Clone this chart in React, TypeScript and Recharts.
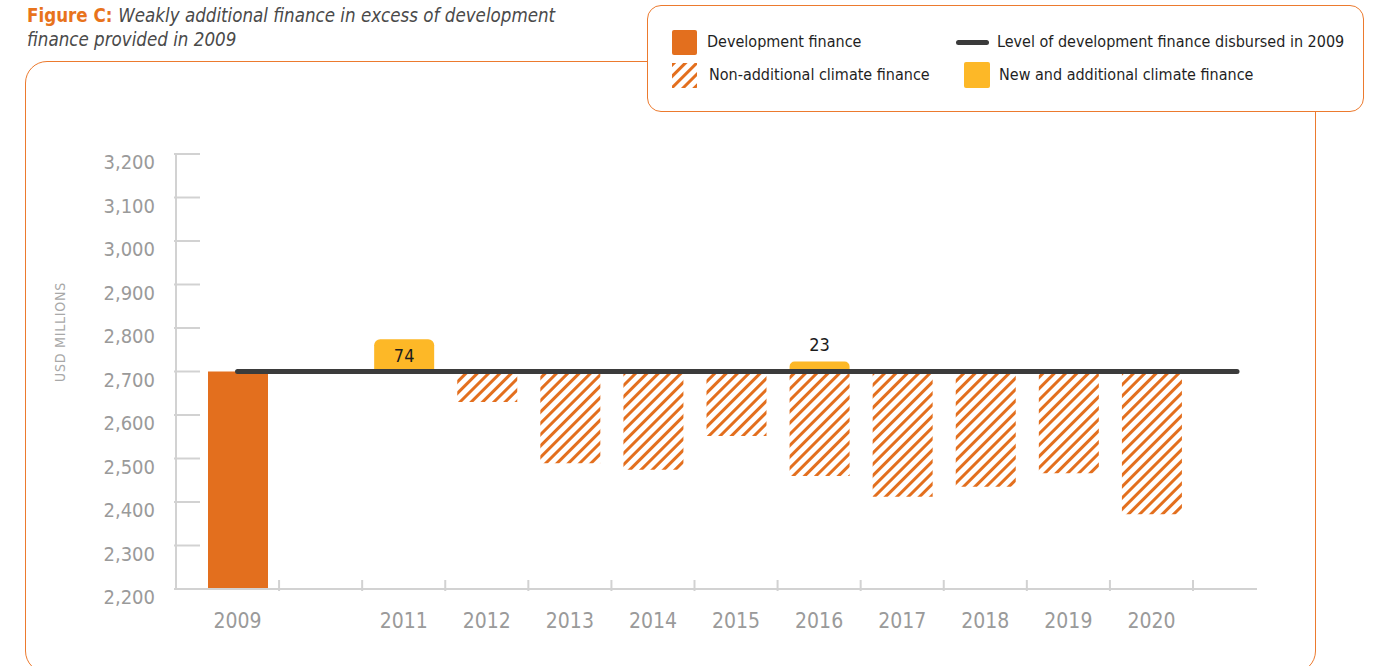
import React from 'react';
import { BarChart, Bar, XAxis, YAxis, ReferenceLine, LabelList } from 'recharts';

// ---- data ----
const years = ['2009', '2010', '2011', '2012', '2013', '2014', '2015', '2016', '2017', '2018', '2019', '2020'];
const yearLabels = ['2009', '', '2011', '2012', '2013', '2014', '2015', '2016', '2017', '2018', '2019', '2020'];
const developmentFinance: (number | null)[] = [2700, null, null, null, null, null, null, null, null, null, null, null];
const level2009 = 2700;
// amount of climate finance that is non-additional (below the 2009 level)
const nonAdditional: (number | null)[] = [null, null, null, 70, 211, 226, 148, 240, 288, 265, 234, 328];
// new and additional climate finance (above the 2009 level)
const newAdditional: (number | null)[] = [null, null, 74, null, null, null, null, 23, null, null, null, null];
const yTicks = [2200, 2300, 2400, 2500, 2600, 2700, 2800, 2900, 3000, 3100, 3200];
const Y_MIN = 2200;
const Y_MAX = 3200;

const data = years.map((year, i) => ({
  year,
  dev: developmentFinance[i] != null ? [Y_MIN, developmentFinance[i] as number] : null,
  nonAdd: nonAdditional[i] != null ? [level2009 - (nonAdditional[i] as number), level2009] : null,
  newAdd: newAdditional[i] != null ? [level2009, level2009 + (newAdditional[i] as number)] : null,
  newVal: newAdditional[i],
}));

// ---- layout / style ----
const W = 1373;
const H = 666;
const M = { top: 154, right: 116, bottom: 37, left: 76 };
const Y_AXIS_W = 100;
const PAD = { left: 20, right: 64 };
const PLOT_W = W - M.left - M.right - Y_AXIS_W;
const HALF_BAND = (PLOT_W - PAD.left - PAD.right) / years.length / 2;

const ORANGE = '#E36F1E';
const YELLOW = '#FDB827';
const FRAME = '#EC7A2E';
const GREY = '#9a9a9a';
const AXIS = '#d2d2d2';
const FONT = "'Liberation Sans Narrow', 'DejaVu Sans Condensed', 'Roboto Condensed', Roboto, sans-serif";

const YTick = (props: any) => {
  const { x, y, payload } = props;
  return (
    <g>
      <line x1={x} x2={x + 26} y1={y} y2={y} stroke={AXIS} strokeWidth={2} />
      <text x={x - 19} y={y + 8} textAnchor="end" dominantBaseline="central" fill={GREY} fontSize={20} fontFamily={FONT}>
        {Number(payload.value).toLocaleString('en-US')}
      </text>
    </g>
  );
};

const XTick = (props: any) => {
  const { x, y, payload } = props;
  const idx = years.indexOf(payload.value);
  return (
    <g>
      <line x1={x + HALF_BAND} x2={x + HALF_BAND} y1={y - 11} y2={y} stroke={AXIS} strokeWidth={2} />
      <text x={x} y={y + 30} textAnchor="middle" dominantBaseline="central" fill={GREY} fontSize={21} fontFamily={FONT}>
        {yearLabels[idx]}
      </text>
    </g>
  );
};

const NewLabel = (props: any) => {
  const { x, y, width, height, value } = props;
  if (value == null) return null;
  const inside = height > 20;
  return (
    <text
      x={x + width / 2}
      y={inside ? y + 16 : y - 17}
      textAnchor="middle"
      dominantBaseline="central"
      fill="#1c1c1c"
      fontSize={18}
      fontFamily={FONT}
    >
      {value}
    </text>
  );
};

const LevelLine = (props: any) => {
  const { x1, x2, y1 } = props;
  return (
    <line
      x1={x1 + PAD.left + HALF_BAND}
      x2={x2 - 20}
      y1={y1}
      y2={y1}
      stroke="#3b3b3b"
      strokeWidth={5}
      strokeLinecap="round"
    />
  );
};

const YLabel = (props: any) => {
  const { viewBox } = props;
  const cx = viewBox.x - 16;
  const cy = viewBox.y + 178;
  return (
    <text
      x={cx}
      y={cy}
      transform={`rotate(-90 ${cx} ${cy})`}
      textAnchor="middle"
      dominantBaseline="central"
      fill="#a8a8a8"
      fontSize={14}
      letterSpacing={0.8}
      fontFamily={FONT}
    >
      USD MILLIONS
    </text>
  );
};

const legendText: React.CSSProperties = {
  position: 'absolute',
  fontFamily: FONT,
  fontSize: 16,
  color: '#1f1f1f',
  lineHeight: '20px',
  whiteSpace: 'nowrap',
};

export default function App() {
  return (
    <div style={{ position: 'absolute', left: 0, top: 0, width: W, height: H, background: '#fff', overflow: 'hidden' }}>
      <svg width={0} height={0} style={{ position: 'absolute' }}>
        <defs>
          <pattern id="hatch" patternUnits="userSpaceOnUse" width={8} height={8} patternTransform="rotate(45)">
            <rect x={0} y={0} width={3} height={8} fill={ORANGE} />
          </pattern>
        </defs>
      </svg>

      {/* title */}
      <div style={{ position: 'absolute', left: 27, top: 4, fontFamily: FONT, fontSize: 18.6, lineHeight: '24px', color: '#4a4a4a', whiteSpace: 'nowrap' }}>
        <span style={{ color: '#E8731C', fontWeight: 'bold' }}>Figure C: </span>
        <span style={{ fontStyle: 'italic' }}>Weakly additional finance in excess of development</span>
        <br />
        <span style={{ fontStyle: 'italic' }}>finance provided in 2009</span>
      </div>

      {/* frame */}
      <div
        style={{
          position: 'absolute',
          left: 25,
          top: 61,
          width: 1291,
          height: 612,
          border: `1.5px solid ${FRAME}`,
          borderRadius: 22,
          boxSizing: 'border-box',
        }}
      />

      <div style={{ position: 'absolute', left: 0, top: 0 }}>
        <BarChart width={W} height={H} data={data} margin={M}>
          <XAxis
            xAxisId="main"
            dataKey="year"
            type="category"
            padding={PAD}
            height={40}
            interval={0}
            axisLine={{ stroke: AXIS, strokeWidth: 2 }}
            tickLine={false}
            tickSize={0}
            tick={<XTick />}
          />
          <XAxis xAxisId="nonAdd" dataKey="year" type="category" padding={PAD} hide />
          <XAxis xAxisId="newAdd" dataKey="year" type="category" padding={PAD} hide />
          <YAxis
            type="number"
            domain={[Y_MIN, Y_MAX]}
            ticks={yTicks}
            width={Y_AXIS_W}
            interval={0}
            axisLine={{ stroke: AXIS, strokeWidth: 2 }}
            tickLine={false}
            tickSize={0}
            tick={<YTick />}
            label={<YLabel />}
          />
          <Bar xAxisId="main" dataKey="dev" fill={ORANGE} barSize={60} isAnimationActive={false} />
          <Bar xAxisId="nonAdd" dataKey="nonAdd" fill="url(#hatch)" barSize={60} isAnimationActive={false} />
          <Bar xAxisId="newAdd" dataKey="newAdd" fill={YELLOW} barSize={60} radius={[6, 6, 0, 0]} isAnimationActive={false}>
            <LabelList dataKey="newVal" content={<NewLabel />} />
          </Bar>
          <ReferenceLine xAxisId="main" y={level2009} shape={<LevelLine />} />
        </BarChart>
      </div>

      {/* legend */}
      <div
        style={{
          position: 'absolute',
          left: 647,
          top: 5,
          width: 717,
          height: 107,
          border: `1.5px solid ${FRAME}`,
          borderRadius: 14,
          background: '#fff',
          boxSizing: 'border-box',
        }}
      />
      <div style={{ position: 'absolute', left: 672, top: 30, width: 25, height: 25, background: ORANGE, borderRadius: 2 }} />
      <div style={{ ...legendText, left: 707, top: 32 }}>Development finance</div>
      <svg style={{ position: 'absolute', left: 672, top: 63 }} width={25} height={25}>
        <rect x={0} y={0} width={25} height={25} fill="url(#hatch)" />
      </svg>
      <div style={{ ...legendText, left: 709, top: 65 }}>Non-additional climate finance</div>
      <div style={{ position: 'absolute', left: 956, top: 40, width: 33, height: 5, background: '#3b3b3b', borderRadius: 3 }} />
      <div style={{ ...legendText, left: 997, top: 32 }}>Level of development finance disbursed in 2009</div>
      <div style={{ position: 'absolute', left: 964, top: 62, width: 26, height: 26, background: YELLOW, borderRadius: 2 }} />
      <div style={{ ...legendText, left: 999, top: 65 }}>New and additional climate finance</div>
    </div>
  );
}
